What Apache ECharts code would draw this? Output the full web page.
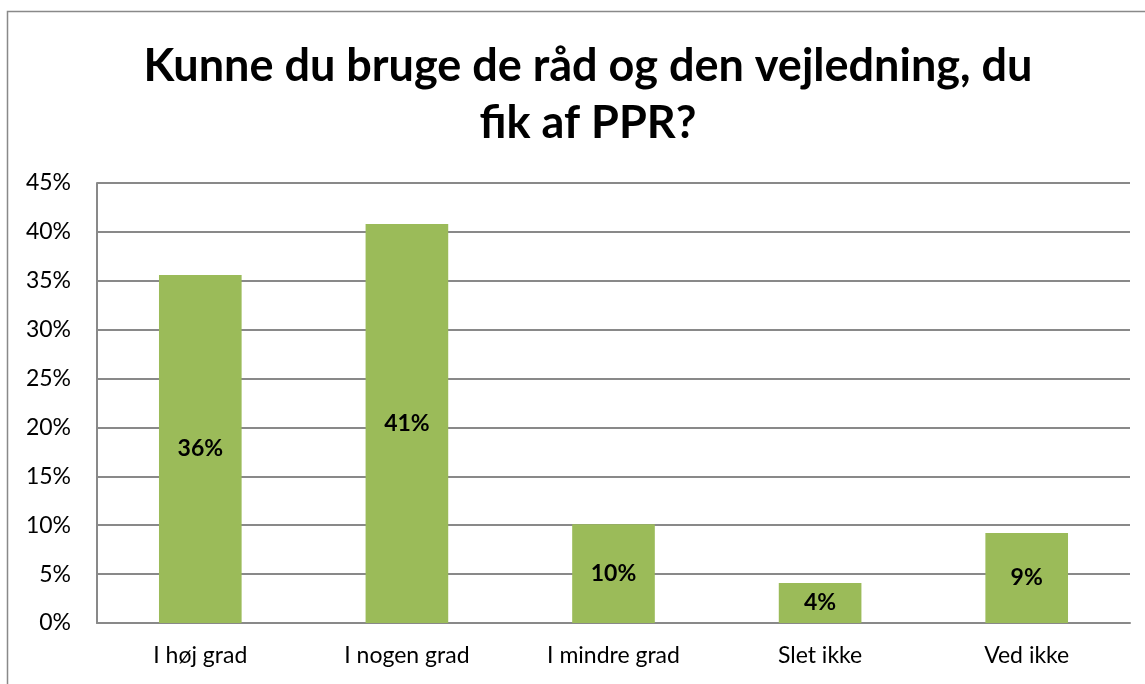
<!DOCTYPE html>
<html>
<head>
<meta charset="utf-8">
<script src="https://cdn.jsdelivr.net/npm/echarts@6/dist/echarts.min.js"></script>
<style>
  html, body { margin: 0; padding: 0; background: #fff; }
  #chart { width: 1145px; height: 684px; }
</style>
</head>
<body>
<div id="chart"></div>
<script>
// Data
const categories = ['I høj grad', 'I nogen grad', 'I mindre grad', 'Slet ikke', 'Ved ikke']
const shares = [35.6, 40.8, 10.1, 4.1, 9.2]
const yTicks = { min: 0, max: 45, interval: 5 }

const chart = echarts.init(document.getElementById('chart'))

const font = 'Lato, "Open Sans", sans-serif'

chart.setOption({
  animation: false,
  title: {
    text: 'Kunne du bruge de råd og den vejledning, du\nfik af PPR?',
    left: 583,
    textAlign: 'center',
    top: 33,
    textStyle: {
      fontFamily: font,
      fontWeight: 'bold',
      fontSize: 45,
      lineHeight: 57,
      color: '#000',
    },
  },
  graphic: [
    {
      type: 'rect',
      shape: { x: 7.5, y: 11.5, width: 1400, height: 900 },
      style: { fill: null, stroke: '#898989', lineWidth: 1.5 },
      silent: true,
    },
  ],
  grid: {
    left: 97,
    right: 15,
    top: 183,
    bottom: 61,
  },
  xAxis: {
    type: 'category',
    data: categories,
    axisLine: { show: true, lineStyle: { color: '#898989', width: 2 } },
    axisTick: { show: false },
    axisLabel: {
      color: '#000',
      fontFamily: font,
      fontSize: 23,
      margin: 21,
    },
  },
  yAxis: {
    type: 'value',
    min: yTicks.min,
    max: yTicks.max,
    interval: yTicks.interval,
    axisLine: { show: true, lineStyle: { color: '#898989', width: 2 } },
    axisTick: { show: false },
    splitLine: { lineStyle: { color: '#898989', width: 2 } },
    axisLabel: {
      color: '#000',
      fontFamily: font,
      fontSize: 23,
      margin: 26,
      formatter: v => v + '%',
    },
  },
  series: [
    {
      type: 'bar',
      data: shares,
      barWidth: '40%',
      itemStyle: { color: '#9BBB59' },
      label: {
        show: true,
        position: 'inside',
        color: '#000',
        fontFamily: font,
        fontWeight: 'bold',
        fontSize: 23,
        formatter: p => Math.round(p.value) + '%',
      },
    },
  ],
})
</script>
</body>
</html>
